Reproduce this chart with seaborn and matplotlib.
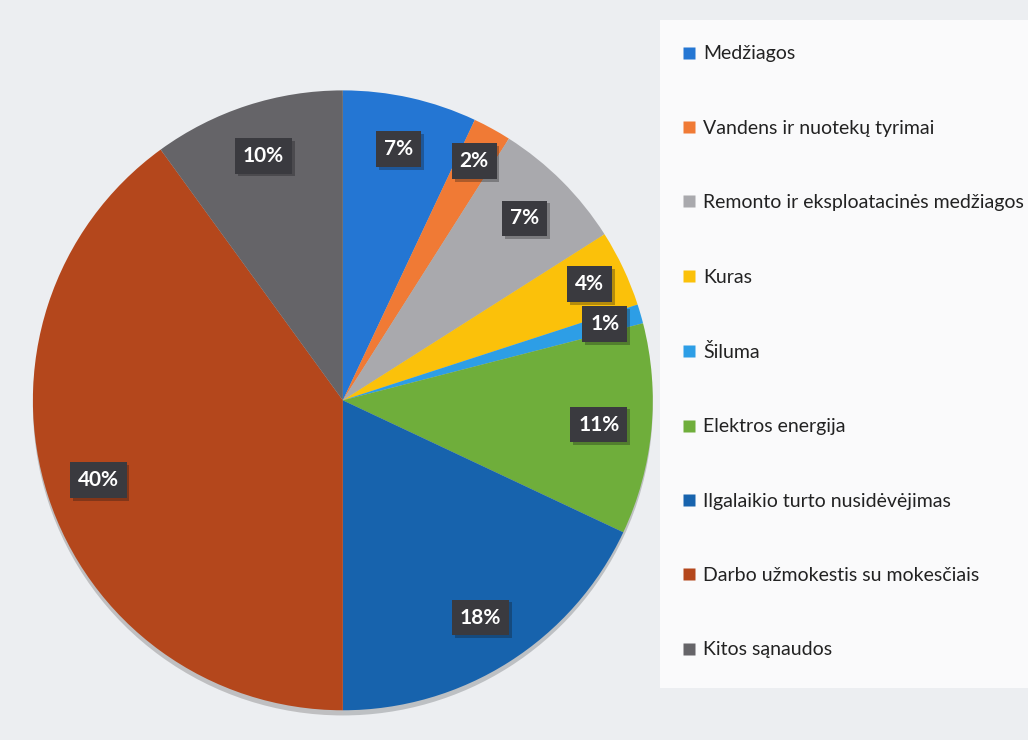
import numpy as np
import matplotlib.pyplot as plt
import matplotlib.patheffects as pe
from matplotlib.lines import Line2D
from matplotlib.patches import Rectangle
import seaborn as sns

# Duomenys
kategorijos = ["Medžiagos", "Vandens ir nuotekų tyrimai", "Remonto ir eksploatacinės medžiagos",
               "Kuras", "Šiluma", "Elektros energija", "Ilgalaikio turto nusidėvėjimas",
               "Darbo užmokestis su mokesčiais", "Kitos sąnaudos"]
procentai = [7, 2, 7, 4, 1, 11, 18, 40, 10]
spalvos = ["#2476d3", "#f07a35", "#a9a9ad", "#fbc10a", "#2d9ee6",
           "#6fae3b", "#1763ad", "#b4471c", "#656468"]

sns.set_theme(style="white")
plt.rcParams['font.family'] = ['Lato', 'DejaVu Sans']

fig = plt.figure(figsize=(10.28, 7.4), dpi=100)
fig.patch.set_facecolor("#eceef1")

# baltas fonas legendai
fig.patches.append(Rectangle((660/1028, 1 - 688/740), 368/1028, 668/740,
                             transform=fig.transFigure, facecolor="#fafafb",
                             edgecolor="none", zorder=0))

ax = fig.add_axes([0.032, 0.040, 0.603, 0.838])
wedges, _ = ax.pie(procentai, colors=spalvos, startangle=90, counterclock=False,
                   radius=1.0, wedgeprops=dict(linewidth=0),
                   shadow=dict(ox=0.0, oy=-0.012, shade=0.92, alpha=0.2))

# etiketės
cum = np.cumsum([0] + procentai)
for i, p in enumerate(procentai):
    mid = (cum[i] + cum[i + 1]) / 2 / sum(procentai) * 2 * np.pi
    r = 0.83
    if p <= 4:
        r = 0.88
    x, y = r * np.sin(mid), r * np.cos(mid)
    ax.text(x, y, f"{p}%", ha="center", va="center", color="white",
            fontsize=15, fontweight="bold",
            bbox=dict(boxstyle="square,pad=0.38", fc="#3a3a3f", ec="none",
                      path_effects=[pe.SimplePatchShadow(offset=(2, -2), alpha=0.3), pe.Normal()]))

ax.set_xlim(-1, 1)
ax.set_ylim(-1, 1)
ax.set_aspect("equal")
ax.axis("off")

handles = [Line2D([0], [0], marker="s", color="none", markerfacecolor=c,
                  markeredgecolor="none", markersize=8) for c in spalvos]
fig.legend(handles, kategorijos, loc="upper left",
           bbox_to_anchor=(664/1028, 1 - 28/740), frameon=False,
           fontsize=14, labelspacing=2.95, handlelength=0.8, handletextpad=0.3,
           labelcolor="#222222")

fig.savefig("out.png", dpi=100, facecolor=fig.get_facecolor())
